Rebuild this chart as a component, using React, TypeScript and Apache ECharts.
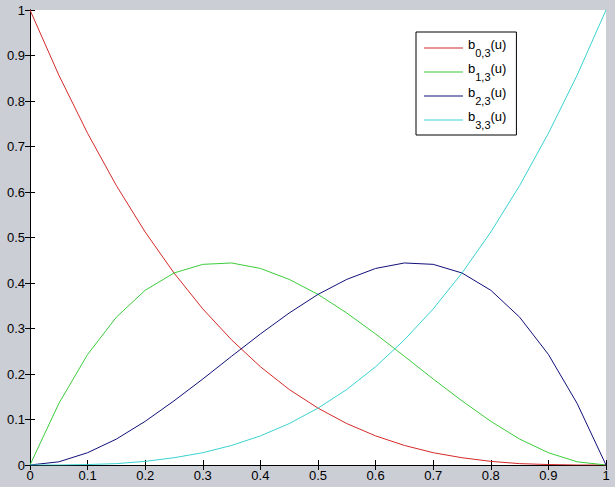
import React, { useEffect, useRef } from 'react';
import * as echarts from 'echarts';

// u sampled at 0.05 steps
const uValues = [0, 0.05, 0.1, 0.15, 0.2, 0.25, 0.3, 0.35, 0.4, 0.45, 0.5, 0.55, 0.6, 0.65, 0.7, 0.75, 0.8, 0.85, 0.9, 0.95, 1];

const b03 = [1, 0.857, 0.729, 0.614, 0.512, 0.422, 0.343, 0.275, 0.216, 0.166, 0.125, 0.091, 0.064, 0.043, 0.027, 0.016, 0.008, 0.003, 0.001, 0.0, 0];
const b13 = [0, 0.135, 0.243, 0.325, 0.384, 0.422, 0.441, 0.444, 0.432, 0.408, 0.375, 0.334, 0.288, 0.239, 0.189, 0.141, 0.096, 0.057, 0.027, 0.007, 0];
const b23 = [0, 0.007, 0.027, 0.057, 0.096, 0.141, 0.189, 0.239, 0.288, 0.334, 0.375, 0.408, 0.432, 0.444, 0.441, 0.422, 0.384, 0.325, 0.243, 0.135, 0];
const b33 = [0, 0.0, 0.001, 0.003, 0.008, 0.016, 0.027, 0.043, 0.064, 0.091, 0.125, 0.166, 0.216, 0.275, 0.343, 0.422, 0.512, 0.614, 0.729, 0.857, 1];

const seriesNames = ['b03', 'b13', 'b23', 'b33'];
const subscripts = ['0,3', '1,3', '2,3', '3,3'];
const seriesValues = [b03, b13, b23, b33];
const colors = ['#d42a2a', '#3ccc3c', '#10107a', '#3cd2d2'];

const font = '"Liberation Sans", Arial, sans-serif';

const App: React.FC = () => {
	const chartRef = useRef<HTMLDivElement>(null);

	useEffect(() => {
		if (!chartRef.current) return;
		const chart = echarts.init(chartRef.current, undefined, { renderer: 'svg' });

		const tickLabel = (v: number) => String(Math.round(v * 10) / 10);
		const axisBase = {
			type: 'value' as const,
			min: 0,
			max: 1,
			interval: 0.1,
			axisLine: { show: true, lineStyle: { color: '#000', width: 1 } },
			axisTick: { show: true, inside: true, length: 5, lineStyle: { color: '#000' } },
			splitLine: { show: false }
		};

		const option: echarts.EChartsOption = {
			animation: false,
			backgroundColor: '#ccced6',
			grid: { left: 30, right: 9, top: 10, bottom: 22, show: true, backgroundColor: '#fff', borderWidth: 0 },
			legend: {
				orient: 'vertical',
				left: 416,
				top: 32,
				width: 96,
				padding: [6, 10, 5, 8],
				itemGap: 4,
				backgroundColor: '#fff',
				borderColor: '#000',
				borderWidth: 1,
				borderRadius: 0,
				icon: 'rect',
				itemWidth: 39,
				itemHeight: 1,
				data: seriesNames,
				formatter: (name: string) => {
					const i = seriesNames.indexOf(name);
					return `{b|b}{s|${subscripts[i]}}{b|(u)}`;
				},
				textStyle: {
					fontFamily: font,
					color: '#000',
					rich: {
						b: { fontSize: 13, fontFamily: font, color: '#000', lineHeight: 20, verticalAlign: 'top', padding: [0, 0, 4, 0] },
						s: { fontSize: 11, fontFamily: font, color: '#000', lineHeight: 20, verticalAlign: 'bottom', padding: [6, 0, 0, 0] }
					}
				}
			},
			xAxis: [
				{
					...axisBase,
					position: 'bottom',
					axisLabel: { color: '#000', fontSize: 13, fontFamily: font, margin: 4, formatter: tickLabel }
				},
				{
					...axisBase,
					position: 'top',
					axisLabel: { show: false }
				}
			],
			yAxis: [
				{
					...axisBase,
					position: 'left',
					axisLabel: { color: '#000', fontSize: 13, fontFamily: font, margin: 5, formatter: tickLabel }
				},
				{
					...axisBase,
					position: 'right',
					axisLabel: { show: false }
				}
			],
			series: seriesNames.map((name, i) => ({
				name,
				type: 'line' as const,
				showSymbol: false,
				symbol: 'none',
				lineStyle: { color: colors[i], width: 1 },
				itemStyle: { color: colors[i] },
				data: uValues.map((u, j) => [u, seriesValues[i][j]])
			}))
		};

		chart.setOption(option);
		return () => {
			chart.dispose();
		};
	}, []);

	return <div ref={chartRef} style={{ position: 'fixed', left: 0, top: 0, width: '615px', height: '487px' }} />;
};

export default App;
